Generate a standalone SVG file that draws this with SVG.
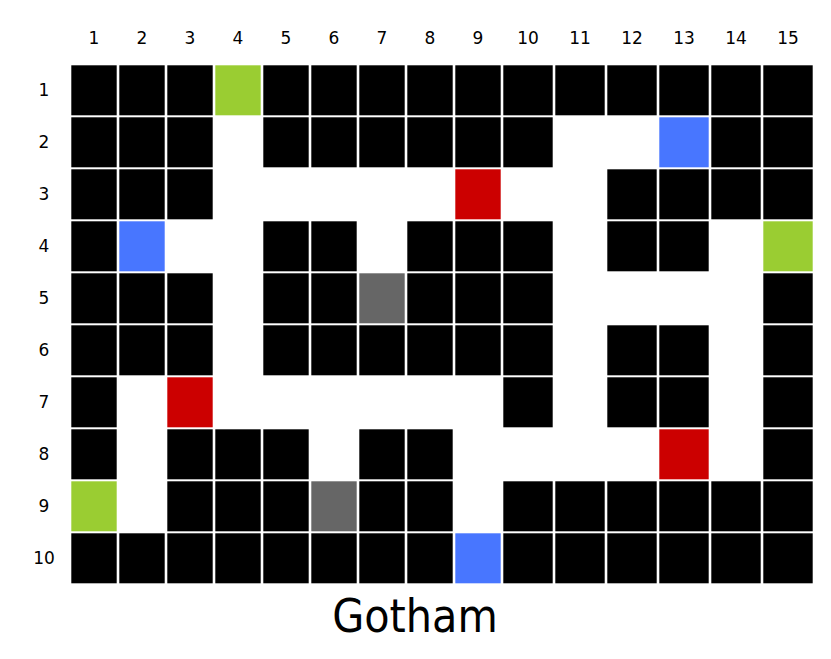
<svg xmlns="http://www.w3.org/2000/svg" width="831" height="659" viewBox="0 0 831 659">
<style>
text{font-family:"DejaVu Sans","Verdana",sans-serif;fill:#000}
.lbl{font-size:17px;text-anchor:middle}
.title{font-family:"DejaVu Sans Condensed","DejaVu Sans",sans-serif;font-size:46px;text-anchor:middle}
.k{fill:#000}.g{fill:#9acd32}.b{fill:#4876ff}.r{fill:#cc0000}.s{fill:#666}
</style>
<rect width="831" height="659" fill="#fff"/>
<g id="col-labels" class="lbl">
<text x="94" y="44">1</text><text x="142" y="44">2</text><text x="190" y="44">3</text><text x="238" y="44">4</text><text x="286" y="44">5</text><text x="334" y="44">6</text><text x="382" y="44">7</text><text x="430" y="44">8</text><text x="478" y="44">9</text><text x="528" y="44">10</text><text x="580" y="44">11</text><text x="632" y="44">12</text><text x="684" y="44">13</text><text x="736" y="44">14</text><text x="788" y="44">15</text>
</g>
<g id="row-labels" class="lbl">
<text x="44" y="96">1</text><text x="44" y="148">2</text><text x="44" y="200">3</text><text x="44" y="252">4</text><text x="44" y="304">5</text><text x="44" y="356">6</text><text x="44" y="408">7</text><text x="44" y="460">8</text><text x="44" y="512">9</text><text x="44" y="564">10</text>
</g>
<g id="row1" transform="translate(0,65.3)">
<rect class="k" x="71.3" width="45.4" height="50"/><rect class="k" x="119.3" width="45.4" height="50"/><rect class="k" x="167.3" width="45.4" height="50"/><rect class="g" x="215.3" width="45.4" height="50"/><rect class="k" x="263.3" width="45.4" height="50"/><rect class="k" x="311.3" width="45.4" height="50"/><rect class="k" x="359.3" width="45.4" height="50"/><rect class="k" x="407.3" width="45.4" height="50"/><rect class="k" x="455.3" width="45.4" height="50"/><rect class="k" x="503.3" width="49.4" height="50"/><rect class="k" x="555.3" width="49.4" height="50"/><rect class="k" x="607.3" width="49.4" height="50"/><rect class="k" x="659.3" width="49.4" height="50"/><rect class="k" x="711.3" width="49.4" height="50"/><rect class="k" x="763.3" width="49.4" height="50"/>
</g>
<g id="row2" transform="translate(0,117.3)">
<rect class="k" x="71.3" width="45.4" height="50"/><rect class="k" x="119.3" width="45.4" height="50"/><rect class="k" x="167.3" width="45.4" height="50"/><rect class="k" x="263.3" width="45.4" height="50"/><rect class="k" x="311.3" width="45.4" height="50"/><rect class="k" x="359.3" width="45.4" height="50"/><rect class="k" x="407.3" width="45.4" height="50"/><rect class="k" x="455.3" width="45.4" height="50"/><rect class="k" x="503.3" width="49.4" height="50"/><rect class="b" x="659.3" width="49.4" height="50"/><rect class="k" x="711.3" width="49.4" height="50"/><rect class="k" x="763.3" width="49.4" height="50"/>
</g>
<g id="row3" transform="translate(0,169.3)">
<rect class="k" x="71.3" width="45.4" height="50"/><rect class="k" x="119.3" width="45.4" height="50"/><rect class="k" x="167.3" width="45.4" height="50"/><rect class="r" x="455.3" width="45.4" height="50"/><rect class="k" x="607.3" width="49.4" height="50"/><rect class="k" x="659.3" width="49.4" height="50"/><rect class="k" x="711.3" width="49.4" height="50"/><rect class="k" x="763.3" width="49.4" height="50"/>
</g>
<g id="row4" transform="translate(0,221.3)">
<rect class="k" x="71.3" width="45.4" height="50"/><rect class="b" x="119.3" width="45.4" height="50"/><rect class="k" x="263.3" width="45.4" height="50"/><rect class="k" x="311.3" width="45.4" height="50"/><rect class="k" x="407.3" width="45.4" height="50"/><rect class="k" x="455.3" width="45.4" height="50"/><rect class="k" x="503.3" width="49.4" height="50"/><rect class="k" x="607.3" width="49.4" height="50"/><rect class="k" x="659.3" width="49.4" height="50"/><rect class="g" x="763.3" width="49.4" height="50"/>
</g>
<g id="row5" transform="translate(0,273.3)">
<rect class="k" x="71.3" width="45.4" height="50"/><rect class="k" x="119.3" width="45.4" height="50"/><rect class="k" x="167.3" width="45.4" height="50"/><rect class="k" x="263.3" width="45.4" height="50"/><rect class="k" x="311.3" width="45.4" height="50"/><rect class="s" x="359.3" width="45.4" height="50"/><rect class="k" x="407.3" width="45.4" height="50"/><rect class="k" x="455.3" width="45.4" height="50"/><rect class="k" x="503.3" width="49.4" height="50"/><rect class="k" x="763.3" width="49.4" height="50"/>
</g>
<g id="row6" transform="translate(0,325.3)">
<rect class="k" x="71.3" width="45.4" height="50"/><rect class="k" x="119.3" width="45.4" height="50"/><rect class="k" x="167.3" width="45.4" height="50"/><rect class="k" x="263.3" width="45.4" height="50"/><rect class="k" x="311.3" width="45.4" height="50"/><rect class="k" x="359.3" width="45.4" height="50"/><rect class="k" x="407.3" width="45.4" height="50"/><rect class="k" x="455.3" width="45.4" height="50"/><rect class="k" x="503.3" width="49.4" height="50"/><rect class="k" x="607.3" width="49.4" height="50"/><rect class="k" x="659.3" width="49.4" height="50"/><rect class="k" x="763.3" width="49.4" height="50"/>
</g>
<g id="row7" transform="translate(0,377.3)">
<rect class="k" x="71.3" width="45.4" height="50"/><rect class="r" x="167.3" width="45.4" height="50"/><rect class="k" x="503.3" width="49.4" height="50"/><rect class="k" x="607.3" width="49.4" height="50"/><rect class="k" x="659.3" width="49.4" height="50"/><rect class="k" x="763.3" width="49.4" height="50"/>
</g>
<g id="row8" transform="translate(0,429.3)">
<rect class="k" x="71.3" width="45.4" height="50"/><rect class="k" x="167.3" width="45.4" height="50"/><rect class="k" x="215.3" width="45.4" height="50"/><rect class="k" x="263.3" width="45.4" height="50"/><rect class="k" x="359.3" width="45.4" height="50"/><rect class="k" x="407.3" width="45.4" height="50"/><rect class="r" x="659.3" width="49.4" height="50"/><rect class="k" x="763.3" width="49.4" height="50"/>
</g>
<g id="row9" transform="translate(0,481.3)">
<rect class="g" x="71.3" width="45.4" height="50"/><rect class="k" x="167.3" width="45.4" height="50"/><rect class="k" x="215.3" width="45.4" height="50"/><rect class="k" x="263.3" width="45.4" height="50"/><rect class="s" x="311.3" width="45.4" height="50"/><rect class="k" x="359.3" width="45.4" height="50"/><rect class="k" x="407.3" width="45.4" height="50"/><rect class="k" x="503.3" width="49.4" height="50"/><rect class="k" x="555.3" width="49.4" height="50"/><rect class="k" x="607.3" width="49.4" height="50"/><rect class="k" x="659.3" width="49.4" height="50"/><rect class="k" x="711.3" width="49.4" height="50"/><rect class="k" x="763.3" width="49.4" height="50"/>
</g>
<g id="row10" transform="translate(0,533.3)">
<rect class="k" x="71.3" width="45.4" height="50"/><rect class="k" x="119.3" width="45.4" height="50"/><rect class="k" x="167.3" width="45.4" height="50"/><rect class="k" x="215.3" width="45.4" height="50"/><rect class="k" x="263.3" width="45.4" height="50"/><rect class="k" x="311.3" width="45.4" height="50"/><rect class="k" x="359.3" width="45.4" height="50"/><rect class="k" x="407.3" width="45.4" height="50"/><rect class="b" x="455.3" width="45.4" height="50"/><rect class="k" x="503.3" width="49.4" height="50"/><rect class="k" x="555.3" width="49.4" height="50"/><rect class="k" x="607.3" width="49.4" height="50"/><rect class="k" x="659.3" width="49.4" height="50"/><rect class="k" x="711.3" width="49.4" height="50"/><rect class="k" x="763.3" width="49.4" height="50"/>
</g>
<text id="title" class="title" x="415" y="632">Gotham</text>
</svg>
